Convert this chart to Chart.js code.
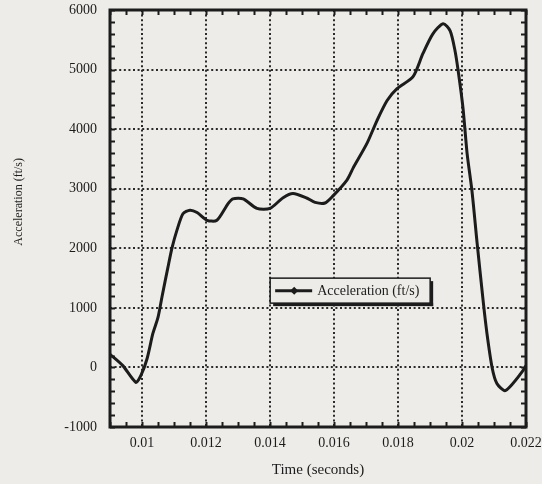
<!DOCTYPE html>
<html>
<head>
<meta charset="utf-8">
<script src="https://cdn.jsdelivr.net/npm/chart.js@4.4.1/dist/chart.umd.min.js"></script>
<style>
  html, body { margin: 0; padding: 0; background: #edece8; }
  #wrap { width: 542px; height: 484px; }
</style>
</head>
<body>
<div id="wrap"><canvas id="c" width="542" height="484"></canvas></div>
<script>
// Acceleration pulse vs time
const times = [
  0.00900, 0.00940, 0.00981, 0.00997, 0.01016, 0.01034, 0.01050, 0.01063,
  0.01081, 0.01094, 0.01109, 0.01128, 0.01150, 0.01172, 0.01203, 0.01234,
  0.01269, 0.01284, 0.01316, 0.01359, 0.01400, 0.01441, 0.01472, 0.01516,
  0.01541, 0.01572, 0.01597, 0.01641, 0.01660, 0.01703, 0.01734, 0.01766,
  0.01797, 0.01847, 0.01878, 0.01909, 0.01941, 0.01963, 0.01978, 0.01988,
  0.02003, 0.02016, 0.02031, 0.02047, 0.02066, 0.02078, 0.02094, 0.02109,
  0.02134, 0.02159, 0.02191, 0.02200
];
const acceleration = [
   220,   30, -250, -130,  150,  570,  840, 1200,
  1680, 2010, 2300, 2580, 2640, 2600, 2470, 2470,
  2750, 2830, 2830, 2670, 2670, 2850, 2920, 2840,
  2770, 2760, 2880, 3150, 3350, 3760, 4140, 4480,
  4680, 4880, 5270, 5600, 5770, 5650, 5320, 4980,
  4360, 3590, 2970, 2100, 1120,  570,    0, -270,
  -390, -270,  -50,   30
];

const seriesName = 'Acceleration (ft/s)';
const yTitle = 'Acceleration (ft/s)';
const xTitle = 'Time (seconds)';
const xTicks = [0.010, 0.012, 0.014, 0.016, 0.018, 0.020, 0.022];
const xTickLabels = ['0.01', '0.012', '0.014', '0.016', '0.018', '0.02', '0.022'];
const yTicks = [-1000, 0, 1000, 2000, 3000, 4000, 5000, 6000];
const yTickLabels = ['-1000', '0', '1000', '2000', '3000', '4000', '5000', '6000'];
const xMinorStep = 0.0005;
const yMinorStep = 200;

const INK = '#1c1c1c';
const SERIF = '"Liberation Serif", "DejaVu Serif", serif';

// Paper background
const paper = {
  id: 'paper',
  beforeDraw(chart) {
    const ctx = chart.ctx;
    ctx.save();
    ctx.fillStyle = '#edece8';
    ctx.fillRect(0, 0, chart.width, chart.height);
    ctx.restore();
  }
};

// Heavy frame with inward minor ticks on all four sides, the y title and the boxed legend
const frame = {
  id: 'frame',
  afterDatasetsDraw(chart) {
    const { ctx, chartArea: a, scales } = chart;
    const xs = scales.x, ys = scales.y;
    ctx.save();
    ctx.strokeStyle = INK;
    ctx.lineWidth = 2;
    const tl = 5;
    for (let v = Math.ceil(xs.min / xMinorStep) * xMinorStep; v <= xs.max + 1e-9; v += xMinorStep) {
      const px = Math.round(xs.getPixelForValue(v)) + 0.5;
      ctx.beginPath();
      ctx.moveTo(px, a.bottom); ctx.lineTo(px, a.bottom - tl);
      ctx.moveTo(px, a.top); ctx.lineTo(px, a.top + tl);
      ctx.stroke();
    }
    for (let v = ys.min; v <= ys.max + 1e-6; v += yMinorStep) {
      const py = Math.round(ys.getPixelForValue(v)) + 0.5;
      ctx.beginPath();
      ctx.moveTo(a.left, py); ctx.lineTo(a.left + tl, py);
      ctx.moveTo(a.right, py); ctx.lineTo(a.right - tl, py);
      ctx.stroke();
    }
    ctx.lineWidth = 3;
    ctx.strokeRect(a.left, a.top, a.right - a.left, a.bottom - a.top);

    const w = a.right - a.left, h = a.bottom - a.top;

    // rotated y-axis title
    ctx.save();
    ctx.translate(19, a.top + h * 0.46);
    ctx.rotate(-Math.PI / 2);
    ctx.font = '12px ' + SERIF;
    ctx.fillStyle = INK;
    ctx.textAlign = 'center';
    ctx.textBaseline = 'middle';
    ctx.fillText(yTitle, 0, 0);
    ctx.restore();

    // legend box
    const bx = a.left + w * 0.385, by = a.top + h * 0.643;
    const bw = 160, bh = 25;
    ctx.fillStyle = '#edece8';
    ctx.fillRect(bx, by, bw, bh);
    ctx.fillStyle = INK;
    ctx.fillRect(bx + 3, by + bh, bw, 3);
    ctx.fillRect(bx + bw, by + 3, 3, bh);
    ctx.lineWidth = 1.5;
    ctx.strokeRect(bx, by, bw, bh);
    const ly = by + bh / 2;
    ctx.lineWidth = 3;
    ctx.beginPath();
    ctx.moveTo(bx + 5, ly); ctx.lineTo(bx + 42, ly);
    ctx.stroke();
    const dx = bx + 24;
    ctx.beginPath();
    ctx.moveTo(dx, ly - 4); ctx.lineTo(dx + 4, ly); ctx.lineTo(dx, ly + 4); ctx.lineTo(dx - 4, ly);
    ctx.closePath();
    ctx.fill();
    ctx.font = '14px ' + SERIF;
    ctx.textBaseline = 'middle';
    ctx.textAlign = 'left';
    ctx.fillText(seriesName, bx + 47, ly + 1);
    ctx.restore();
  }
};

new Chart(document.getElementById('c'), {
  type: 'line',
  data: {
    datasets: [{
      label: seriesName,
      data: times.map((t, i) => ({ x: t, y: acceleration[i] })),
      borderColor: INK,
      borderWidth: 3,
      pointRadius: 0,
      tension: 0.25,
      fill: false
    }]
  },
  options: {
    responsive: false,
    animation: false,
    layout: { padding: { top: 10, right: 16, left: 0, bottom: 0 } },
    plugins: {
      legend: { display: false },
      tooltip: { enabled: false }
    },
    scales: {
      x: {
        type: 'linear',
        min: 0.009,
        max: 0.022,
        afterBuildTicks: s => { s.ticks = xTicks.map(v => ({ value: v })); },
        afterFit: s => { s.height = 57; s.paddingLeft = 0; s.paddingRight = 0; },
        ticks: {
          callback: (v, i) => xTickLabels[i],
          font: { family: SERIF, size: 14 },
          color: INK,
          padding: 8,
          maxRotation: 0
        },
        grid: {
          color: '#2a2a2a',
          lineWidth: 2,
          drawTicks: false
        },
        border: { display: false, dash: [2, 2.6] },
        title: {
          display: true,
          text: xTitle,
          font: { family: SERIF, size: 15 },
          color: INK,
          padding: { top: 0, bottom: 5 }
        }
      },
      y: {
        type: 'linear',
        min: -1000,
        max: 6000,
        afterBuildTicks: s => { s.ticks = yTicks.map(v => ({ value: v })); },
        afterFit: s => { s.width = 110; s.paddingTop = 0; s.paddingBottom = 0; },
        ticks: {
          callback: (v, i) => yTickLabels[i],
          font: { family: SERIF, size: 14 },
          color: INK,
          padding: 13
        },
        grid: {
          color: '#2a2a2a',
          lineWidth: 2,
          drawTicks: false
        },
        border: { display: false, dash: [2, 2.6] }
      }
    }
  },
  plugins: [paper, frame]
});
</script>
</body>
</html>
